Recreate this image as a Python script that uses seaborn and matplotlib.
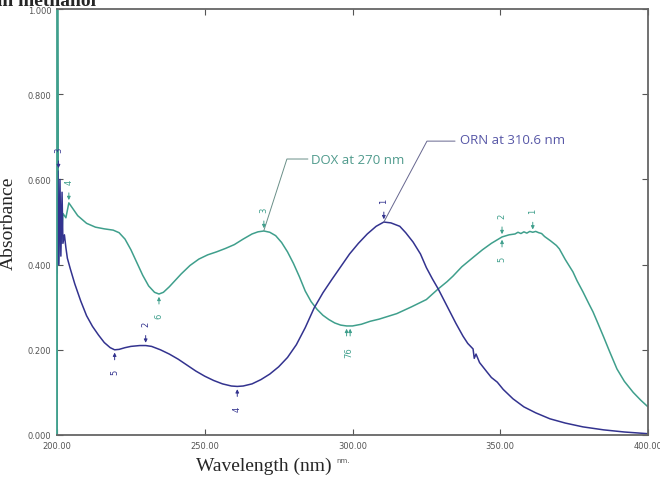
import numpy as np
import pandas as pd
import seaborn as sns
import matplotlib.pyplot as plt

# DOX spectrum (teal)
dox_wl = [200.0, 200.2, 200.5, 201.0, 201.5, 202.0, 203.0, 204.0, 205.0, 207.0, 210.0, 213.0, 216.0,
          219.0, 221.0, 223.0, 225.0, 227.0, 229.0, 231.0, 233.0, 234.5, 236.0, 238.0, 240.0, 242.0,
          245.0, 248.0, 251.0, 254.0, 257.0, 260.0, 263.0, 266.0, 268.0, 270.0, 272.0, 274.0, 276.0,
          278.0, 280.0, 282.0, 284.0, 286.0, 288.0, 290.0, 292.0, 294.0, 296.0, 298.0, 300.0, 303.0,
          306.0, 309.0, 315.0, 320.0, 325.0, 329.0, 332.0, 334.0, 337.0, 341.0, 344.0, 347.0, 350.6,
          353.0, 355.0, 356.0, 357.0, 358.0, 359.0, 360.0, 361.0, 362.0, 363.0, 364.0, 365.0, 367.0,
          369.0, 370.0, 372.0, 374.6, 376.0, 378.0, 380.0, 381.4, 383.0, 385.0, 387.0, 389.5, 392.0,
          395.0, 397.5, 400.0]
dox_abs = [0.000, 1.000, 0.400, 0.500, 0.450, 0.520, 0.510, 0.545, 0.535, 0.515, 0.497, 0.488, 0.484,
           0.481, 0.475, 0.460, 0.435, 0.405, 0.375, 0.350, 0.335, 0.331, 0.335, 0.348, 0.363, 0.378,
           0.398, 0.413, 0.423, 0.430, 0.438, 0.447, 0.460, 0.472, 0.477, 0.479, 0.476, 0.468, 0.452,
           0.430, 0.403, 0.372, 0.338, 0.313, 0.295, 0.281, 0.271, 0.263, 0.258, 0.256, 0.256, 0.260,
           0.267, 0.272, 0.285, 0.301, 0.318, 0.343, 0.360, 0.373, 0.395, 0.418, 0.435, 0.450, 0.465,
           0.470, 0.472, 0.476, 0.473, 0.477, 0.474, 0.478, 0.476, 0.478, 0.475, 0.473, 0.466, 0.456,
           0.445, 0.437, 0.412, 0.383, 0.362, 0.336, 0.308, 0.289, 0.263, 0.230, 0.196, 0.155, 0.126,
           0.100, 0.082, 0.066]

# ORN spectrum (blue)
orn_wl = [200.0, 200.3, 200.6, 201.0, 201.3, 201.7, 202.0, 202.5, 203.0, 203.5, 204.5, 206.0, 208.0,
          210.0, 212.0, 214.0, 216.0, 218.0, 219.5, 221.0, 223.0, 225.0, 228.0, 230.0, 232.0, 235.0,
          238.0, 241.0, 244.0, 247.0, 250.0, 253.0, 256.0, 259.0, 261.0, 263.0, 266.0, 269.0, 272.0,
          275.0, 278.0, 281.0, 284.0, 287.0, 290.0, 293.0, 296.0, 299.0, 302.0, 305.0, 308.0, 310.6,
          313.0, 316.0, 318.0, 320.5, 323.0, 325.0, 327.0, 329.0, 331.0, 333.0, 335.0, 337.4, 339.0,
          340.8, 341.2, 341.8, 343.0, 345.5, 347.0, 349.0, 351.0, 354.3, 358.0, 362.0, 366.8, 372.0,
          378.0, 385.0, 392.0, 400.0]
orn_abs = [0.380, 0.620, 0.400, 0.600, 0.420, 0.570, 0.450, 0.470, 0.440, 0.415, 0.390, 0.355, 0.315,
           0.280, 0.255, 0.235, 0.217, 0.205, 0.200, 0.201, 0.205, 0.208, 0.210, 0.210, 0.208, 0.200,
           0.190, 0.178, 0.164, 0.150, 0.138, 0.128, 0.120, 0.115, 0.114, 0.115, 0.120, 0.130, 0.143,
           0.160, 0.182, 0.212, 0.252, 0.298, 0.334, 0.365, 0.395, 0.425, 0.450, 0.472, 0.490, 0.500,
           0.498, 0.490, 0.475, 0.453, 0.425, 0.393, 0.367, 0.343, 0.316, 0.289, 0.262, 0.232, 0.215,
           0.202, 0.180, 0.190, 0.170, 0.148, 0.135, 0.124, 0.107, 0.085, 0.066, 0.052, 0.038, 0.028,
           0.019, 0.012, 0.007, 0.003]

# peak / valley markers: (wavelength, absorbance, label, above?)
orn_marks = [(310.6, 0.500, '1', True), (230.0, 0.210, '2', True), (200.5, 0.620, '3', True),
             (261.0, 0.114, '4', False), (219.5, 0.200, '5', False)]
dox_marks = [(361.0, 0.476, '1', True), (350.6, 0.465, '2', True), (270.0, 0.479, '3', True),
             (204.0, 0.545, '4', True), (350.6, 0.465, '5', False), (234.5, 0.331, '6', False),
             (298.0, 0.256, '', False), (299.2, 0.256, '', False)]
# the two valley marks near 298-299 nm share one label
pair_label = '76'

teal = '#3f9f8c'
navy = '#33338f'

sns.set_style('ticks')
fig = plt.figure(figsize=(6.6, 4.81), dpi=100)
ax = fig.add_axes([0.0864, 0.0936, 0.8954, 0.8854])

dox = pd.DataFrame({'wl': dox_wl, 'a': dox_abs})
orn = pd.DataFrame({'wl': orn_wl, 'a': orn_abs})
sns.lineplot(data=dox, x='wl', y='a', color=teal, lw=1.1, estimator=None, sort=False, ax=ax)
sns.lineplot(data=orn, x='wl', y='a', color=navy, lw=1.1, estimator=None, sort=False, ax=ax)

for marks, c in [(orn_marks, navy), (dox_marks, teal)]:
    for x, y, lab, above in marks:
        d = 0.03 if above else -0.03
        ax.annotate('', xy=(x, y), xytext=(x, y + d),
                    arrowprops=dict(arrowstyle='-|>', color=c, lw=0.7, mutation_scale=5))
        if lab:
            ax.text(x, y + 1.7 * d, lab, color=c, fontsize=6, rotation=90,
                    ha='center', va='center')
ax.text(298.6, 0.256 - 0.06, pair_label, color=teal, fontsize=6, rotation=90,
        ha='center', va='center')

# leader labels
ax.plot([270, 277.8, 284.9], [0.48, 0.648, 0.648], color='#6a8f88', lw=0.7)
ax.text(285.9, 0.648, 'DOX at 270 nm', color='#4f9a8c', fontsize=9.5, va='center',
        family='Open Sans')
ax.plot([310.6, 325.2, 334.7], [0.50, 0.69, 0.69], color='#66668f', lw=0.7)
ax.text(336.4, 0.693, 'ORN at 310.6 nm', color='#5656a6', fontsize=9.5, va='center',
        family='Open Sans')

ax.set_xlim(200, 400)
ax.set_ylim(0, 1)
ax.set_xticks([200, 250, 300, 350, 400])
ax.set_xticklabels(['200.00', '250.00', '300.00', '350.00', '400.00'])
ax.set_yticks([0, 0.2, 0.4, 0.6, 0.8, 1.0])
ax.set_yticklabels(['0.000', '0.200', '0.400', '0.600', '0.800', '1.000'])
ax.tick_params(direction='in', length=4, width=0.8, labelsize=6, labelcolor='#555555',
               color='#555555', top=True, right=True, pad=4)
for s in ax.spines.values():
    s.set_color('#666666')
    s.set_linewidth(1.3)
ax.spines['left'].set_color(teal)

ax.set_xlabel('')
ax.set_ylabel('Absorbance', family='Liberation Serif', fontsize=14, labelpad=8)
fig.text(0.40, 0.03, 'Wavelength (nm)', family='Liberation Serif', fontsize=14,
         ha='center', va='center')
fig.text(0.52, 0.042, 'nm.', fontsize=5, color='#555555', ha='center', va='center')
fig.text(-0.005, 0.988, 'in methanol', family='Liberation Serif', fontsize=14,
         fontweight='bold', ha='left', va='baseline')

fig.savefig('out.png', dpi=100)
